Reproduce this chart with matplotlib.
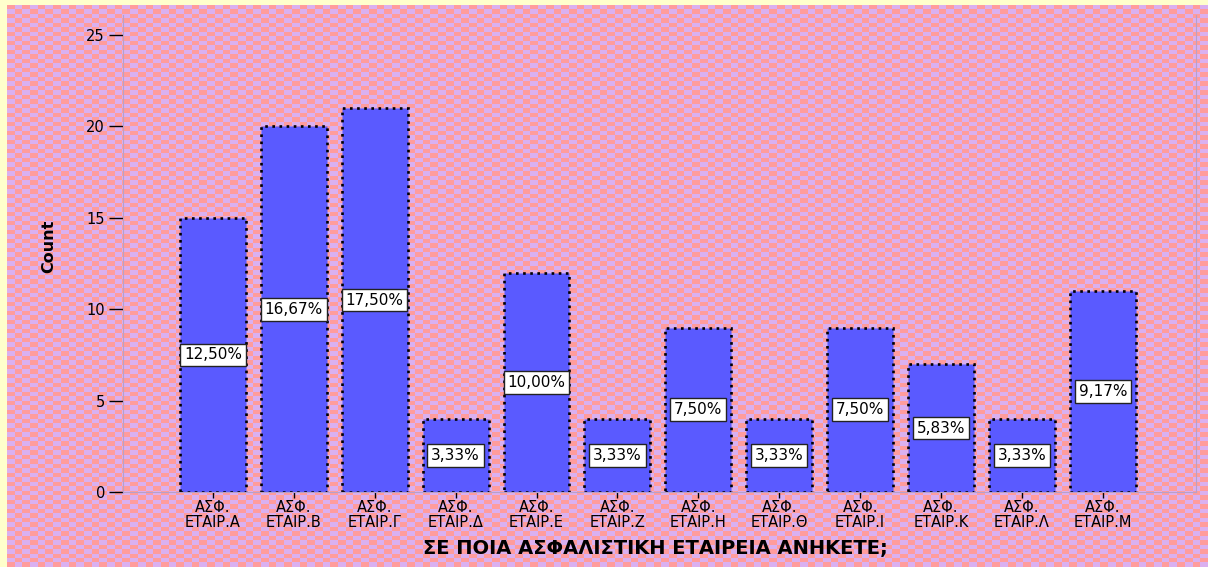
import numpy as np
import matplotlib
matplotlib.use("Agg")
import matplotlib.pyplot as plt

plt.rcParams['font.family'] = ['DejaVu Sans']

categories = ['ΑΣΦ.\nΕΤΑΙΡ.Α', 'ΑΣΦ.\nΕΤΑΙΡ.Β', 'ΑΣΦ.\nΕΤΑΙΡ.Γ', 'ΑΣΦ.\nΕΤΑΙΡ.Δ',
              'ΑΣΦ.\nΕΤΑΙΡ.Ε', 'ΑΣΦ.\nΕΤΑΙΡ.Ζ', 'ΑΣΦ.\nΕΤΑΙΡ.Η', 'ΑΣΦ.\nΕΤΑΙΡ.Θ',
              'ΑΣΦ.\nΕΤΑΙΡ.Ι', 'ΑΣΦ.\nΕΤΑΙΡ.Κ', 'ΑΣΦ.\nΕΤΑΙΡ.Λ', 'ΑΣΦ.\nΕΤΑΙΡ.Μ']
counts = [15, 20, 21, 4, 12, 4, 9, 4, 9, 7, 4, 11]
yticks = [0, 5, 10, 15, 20, 25]

W, H = 1208, 567
fig = plt.figure(figsize=(W / 100, H / 100), dpi=100, facecolor='#ffffcc')

# checkered backdrop
bg = fig.add_axes([7 / W, 0, 1 - 7 / W, 1 - 5 / H])
nx, ny = 156, 125
checker = (np.add.outer(np.arange(ny), np.arange(nx)) % 2)
cmap = matplotlib.colors.ListedColormap(['#ff9c9c', '#dab0f0'])
bg.imshow(checker, cmap=cmap, aspect='auto', interpolation='nearest')
bg.set_axis_off()

ax = fig.add_axes([123 / W, (H - 492) / H, (1196 - 123) / W, (492 - 15) / H])
ax.set_facecolor('none')

x = np.arange(len(counts))
bars = ax.bar(x, counts, width=0.815, color='#5a5aff', edgecolor='black',
              linestyle=(0, (1, 1.7)), linewidth=1.9)

total = sum(counts)
for xi, c in zip(x, counts):
    pct = ('%.2f%%' % (100 * c / total)).replace('.', ',')
    ax.text(xi, c / 2, pct, ha='center', va='center', fontsize=11,
            bbox=dict(boxstyle='square,pad=0.25', fc='white', ec='#222222', lw=1))

ax.set_xlim(-1.11, 12.15)
ax.set_ylim(0, 26.1)
ax.set_xticks(x)
ax.set_xticklabels(categories, fontsize=10.5, linespacing=0.95)
ax.set_yticks(yticks)
ax.tick_params(axis='y', length=10, width=1, labelsize=10.5, pad=3)
ax.tick_params(axis='x', length=4, width=1, pad=2)

ax.spines['top'].set_visible(False)
for side in ['left', 'right', 'bottom']:
    ax.spines[side].set_color('#b8a0c8')
    ax.spines[side].set_linewidth(0.8)

ax.set_ylabel('Count', fontsize=11.5, fontweight='bold')
ax.yaxis.set_label_coords(-0.062, 0.515)
ax.set_xlabel('ΣΕ ΠΟΙΑ ΑΣΦΑΛΙΣΤΙΚΗ ΕΤΑΙΡΕΙΑ ΑΝΗΚΕΤΕ;', fontsize=14,
              fontweight='bold', va='top')
ax.xaxis.set_label_coords(0.496, -0.098)

fig.savefig('out.png', dpi=100, facecolor=fig.get_facecolor())
